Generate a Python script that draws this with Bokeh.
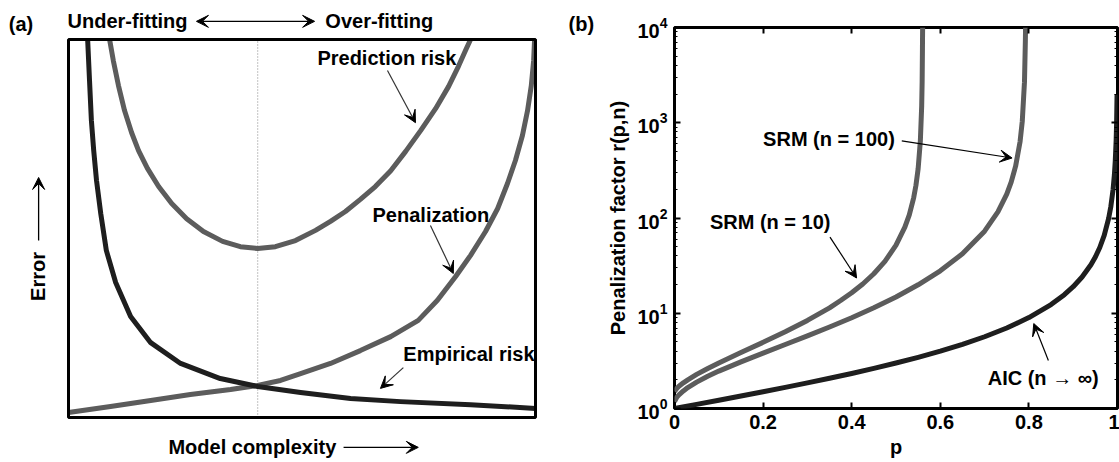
import math
from bokeh.plotting import figure
from bokeh.layouts import row
from bokeh.models import (Range1d, Label, Arrow, VeeHead, BoxAnnotation, LinearAxis, LogAxis,
                          FixedTicker, CustomJSTickFormatter, LogTickFormatter)
from bokeh.embed import file_html
from bokeh.resources import INLINE

FONT = "Liberation Sans"
FS = "20px"

# ---------------- panel (a): error vs. model complexity (normalised units) ----------------
emp_x = [0.041, 0.045, 0.049, 0.054, 0.060, 0.069, 0.081, 0.101, 0.133, 0.176, 0.240,
         0.325, 0.405, 0.497, 0.604, 0.711, 0.861, 1.0]
emp_y = [1.0, 0.892, 0.786, 0.706, 0.627, 0.540, 0.442, 0.357, 0.267, 0.198, 0.143,
         0.103, 0.082, 0.066, 0.050, 0.042, 0.034, 0.024]

pen_x = [0.0, 0.090, 0.176, 0.261, 0.347, 0.405, 0.454, 0.497, 0.561, 0.625, 0.690, 0.749,
         0.790, 0.829, 0.861, 0.893, 0.919, 0.940, 0.957, 0.972, 0.983, 0.991, 0.996, 0.998]
pen_y = [0.013, 0.029, 0.045, 0.061, 0.074, 0.085, 0.098, 0.116, 0.143, 0.177, 0.214, 0.257,
         0.310, 0.373, 0.429, 0.492, 0.553, 0.619, 0.680, 0.746, 0.812, 0.878, 0.944, 1.0]

pred_x = [0.088, 0.096, 0.107, 0.120, 0.135, 0.150, 0.169, 0.193, 0.221, 0.253, 0.289,
          0.330, 0.368, 0.405, 0.443, 0.486, 0.529, 0.561, 0.593, 0.625, 0.657, 0.690, 0.722,
          0.754, 0.786, 0.814, 0.835, 0.852, 0.861]
pred_y = [1.0, 0.944, 0.878, 0.812, 0.754, 0.706, 0.659, 0.611, 0.566, 0.526, 0.492,
          0.466, 0.452, 0.447, 0.452, 0.468, 0.495, 0.519, 0.545, 0.577, 0.611, 0.653, 0.704,
          0.759, 0.817, 0.876, 0.929, 0.976, 1.0]

optimum_complexity = 0.405

# ---------------- panel (b): penalization factor r(p, n) ----------------
p_srm10 = [0, 0.005, 0.01, 0.02, 0.03, 0.05, 0.075, 0.1, 0.15, 0.2, 0.25, 0.3, 0.35, 0.375,
           0.4, 0.425, 0.45, 0.475, 0.5, 0.52, 0.53, 0.54, 0.545, 0.55, 0.555, 0.558, 0.559,
           0.5597, 0.5601]
r_srm10 = [1.51, 1.62, 1.71, 1.86, 2.00, 2.28, 2.63, 3.01, 3.87, 4.95, 6.39, 8.41, 11.4, 13.6,
           16.4, 20.3, 26.0, 35.0, 51.8, 80.1, 108, 164, 220, 330, 647, 1504, 2667, 6000, 10000]

p_srm100 = [0, 0.005, 0.01, 0.02, 0.03, 0.05, 0.075, 0.1, 0.15, 0.2, 0.25, 0.3, 0.35, 0.4,
            0.45, 0.5, 0.55, 0.6, 0.65, 0.7, 0.73, 0.75, 0.76, 0.77, 0.78, 0.785, 0.79, 0.792,
            0.7925]
r_srm100 = [1.18, 1.31, 1.39, 1.53, 1.66, 1.89, 2.18, 2.47, 3.09, 3.82, 4.70, 5.79, 7.17, 8.97,
            11.4, 14.8, 19.9, 27.9, 42.1, 72.8, 116, 178, 238, 350, 630, 1031, 2667, 7143, 10000]

p_aic = [0, 0.05, 0.1, 0.15, 0.2, 0.25, 0.3, 0.35, 0.4, 0.45, 0.5, 0.55, 0.6, 0.65, 0.7, 0.75,
         0.8, 0.85, 0.88, 0.9, 0.92, 0.94, 0.95, 0.96, 0.97, 0.98, 0.985, 0.99, 0.993, 0.995,
         0.997, 0.998, 0.999]
r_aic = [1, 1.105, 1.222, 1.353, 1.5, 1.667, 1.857, 2.077, 2.333, 2.636, 3.0, 3.444, 4.0, 4.714,
         5.667, 7.0, 9.0, 12.33, 15.67, 19.0, 24.0, 32.33, 39.0, 49.0, 65.67, 99.0, 132.3, 199,
         284, 399, 665, 999, 1999]

x_ticks = [0, 0.2, 0.4, 0.6, 0.8, 1]
y_decades = [0, 1, 2, 3, 4]

GRAY = "#5c5c5c"
DARK = "#1e1e1e"


def lab(p, x, y, text, align="left", size=FS, angle=0.0, x_off=0, y_off=0, base="middle"):
    p.add_layout(Label(x=x, y=y, text=text, text_font=FONT, text_font_size=size,
                       text_font_style="bold", text_color="black", text_align=align,
                       text_baseline=base, angle=angle, x_offset=x_off, y_offset=y_off))


def arrow(p, x0, y0, x1, y1, both=False, color="#333333", width=1.2, size=12):
    end = VeeHead(size=size, fill_color="black", line_color="black")
    start = VeeHead(size=size, fill_color="black", line_color="black") if both else None
    p.add_layout(Arrow(x_start=x0, y_start=y0, x_end=x1, y_end=y1, end=end, start=start,
                       line_color=color, line_width=width))


# ---------- figure (a): whole canvas is the frame, the box is drawn in data units ----------
WA, H = 604, 462
FL, FT, FW, FH = 68, 39, 467, 378          # box placement on the canvas (pixels)
pa = figure(output_backend="svg", toolbar_location=None, width=WA, height=H,
            x_range=Range1d(-FL / FW, (WA - FL) / FW),
            y_range=Range1d(-(H - FT - FH) / FH, (FT + FH) / FH),
            x_axis_location=None, y_axis_location=None,
            min_border_left=0, min_border_right=0, min_border_top=0, min_border_bottom=0)
pa.frame_align = False
pa.xgrid.visible = False
pa.ygrid.visible = False
pa.outline_line_color = None
pa.background_fill_color = "white"
pa.border_fill_color = "white"

pa.add_layout(BoxAnnotation(left=0, right=1, bottom=0, top=1, fill_alpha=0,
                            line_color="black", line_width=3, line_alpha=1))
pa.segment(x0=[optimum_complexity], y0=[0], x1=[optimum_complexity], y1=[1],
           line_color="#a0a0a0", line_width=1.3, line_dash="1 2")
pa.line(pred_x, pred_y, line_color=GRAY, line_width=5, line_join="round")
pa.line(pen_x, pen_y, line_color=GRAY, line_width=5, line_join="round")
pa.line(emp_x, emp_y, line_color=DARK, line_width=5, line_join="round")

lab(pa, 0.533, 0.952, "Prediction risk")
arrow(pa, 0.683, 0.918, 0.743, 0.780)
lab(pa, 0.651, 0.537, "Penalization")
arrow(pa, 0.775, 0.508, 0.824, 0.381)
lab(pa, 0.717, 0.167, "Empirical risk")
arrow(pa, 0.717, 0.132, 0.668, 0.077)

lab(pa, -0.128, 1.040, "(a)")
lab(pa, -0.002, 1.050, "Under-fitting")
arrow(pa, 0.274, 1.048, 0.527, 1.048, both=True, color="black", width=1.3)
lab(pa, 0.550, 1.050, "Over-fitting")
lab(pa, 0.214, -0.077, "Model complexity")
arrow(pa, 0.589, -0.079, 0.749, -0.079, color="black", width=1.3)
lab(pa, -0.066, 0.373, "Error", align="center", angle=math.pi / 2)
arrow(pa, -0.064, 0.468, -0.064, 0.635, color="black", width=1.3)
lab(pa, 1.0707, 1.040, "(b)")

# ---------- figure (b) ----------
WB = 1119 - WA
pb = figure(output_backend="svg", toolbar_location=None, width=WB, height=H,
            x_range=Range1d(0, 1), y_range=Range1d(1, 1e4), y_axis_type="log",
            min_border_left=63, min_border_right=2, min_border_top=27, min_border_bottom=54)
pb.frame_align = False
pb.xgrid.visible = False
pb.ygrid.visible = False
pb.outline_line_color = "black"
pb.outline_line_width = 3

majors_y = [10.0 ** k for k in y_decades]
minors_y = [m * 10.0 ** k for k in y_decades[:-1] for m in range(2, 10)]
xt = FixedTicker(ticks=x_ticks)
yt = FixedTicker(ticks=majors_y, minor_ticks=minors_y)
blank = CustomJSTickFormatter(code="return '';")

xa = pb.xaxis[0]
xa.ticker = xt
xa.formatter = CustomJSTickFormatter(code="return tick.toFixed(1).replace(/\\.0$/, '');")
xa.major_label_standoff = 6
xa.axis_label = "p"
xa.axis_label_standoff = 4

ya = pb.yaxis[0]
ya.ticker = yt
ya.formatter = LogTickFormatter()
ya.major_label_standoff = 7
ya.axis_label = "Penalization factor r(p,n)"
ya.axis_label_standoff = 5

for ax in (xa, ya):
    ax.major_label_text_font = FONT
    ax.major_label_text_font_size = FS
    ax.major_label_text_font_style = "bold"
    ax.major_label_text_color = "black"
    ax.axis_label_text_font = FONT
    ax.axis_label_text_font_size = FS
    ax.axis_label_text_font_style = "bold"
    ax.axis_label_text_color = "black"

top_ax = LinearAxis(ticker=xt, formatter=blank)
right_ax = LogAxis(ticker=yt, formatter=blank)
pb.add_layout(top_ax, "above")
pb.add_layout(right_ax, "right")
for ax in (top_ax, right_ax):
    ax.major_label_text_font_size = "0px"
    ax.major_label_standoff = 0

for ax in (xa, ya, top_ax, right_ax):
    ax.axis_line_color = None
    ax.major_tick_in = 6
    ax.major_tick_out = 0
    ax.major_tick_line_color = "black"
    ax.major_tick_line_width = 2
    ax.minor_tick_in = 3
    ax.minor_tick_out = 0
    ax.minor_tick_line_color = "black"
    ax.minor_tick_line_width = 1
for ax in (xa, top_ax):
    ax.minor_tick_line_color = None

pb.line(p_srm10, r_srm10, line_color=GRAY, line_width=5, line_join="round")
pb.line(p_srm100, r_srm100, line_color=GRAY, line_width=5, line_join="round")
pb.line(p_aic, r_aic, line_color=DARK, line_width=5, line_join="round")

lab(pb, 0.2, 10 ** 2.83, "SRM (n = 100)")
arrow(pb, 0.513, 10 ** 2.81, 0.762, 10 ** 2.63, color="black")
lab(pb, 0.08, 10 ** 1.96, "SRM (n = 10)")
arrow(pb, 0.351, 10 ** 1.80, 0.411, 10 ** 1.37, color="black")
lab(pb, 0.707, 10 ** 0.315, "AIC (n \u2192 \u221e)")
arrow(pb, 0.844, 10 ** 0.504, 0.811, 10 ** 0.892, color="black")

layout = row(pa, pb)
open("out.html", "w").write(file_html(layout, INLINE))
